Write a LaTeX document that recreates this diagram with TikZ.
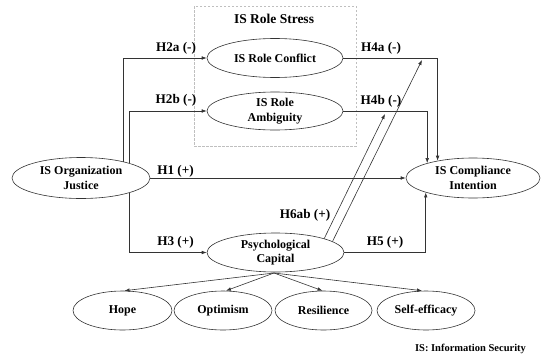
\documentclass[tikz,border=0pt]{standalone}
\usepackage{fontspec}
\setmainfont{Liberation Serif}
\usetikzlibrary{shapes.geometric,arrows.meta}
\begin{document}
\begin{tikzpicture}[x=1pt,y=-1pt,
  ell/.style={ellipse,draw=black!80,line width=0.6pt,inner sep=0pt,align=center,
    font=\fontsize{12}{14.4}\selectfont\bfseries},
  arr/.style={draw=black!80,line width=0.6pt,-{Latex[length=5pt,width=3.6pt]}},
  lbl/.style={font=\fontsize{13.2}{15}\selectfont\bfseries,inner sep=0pt}]
\useasboundingbox (0,0) rectangle (543,359);
% dashed box
\draw[black!25,line width=0.5pt,dash pattern=on 2.5pt off 1.5pt] (194,6) rectangle (356,146);
\node[lbl,font=\fontsize{13.5}{15}\selectfont\bfseries] (ttl) at (274,18.5) {IS Role Stress};
% ellipses
\node[ell,minimum width=136pt,minimum height=39pt] (rc) at (275,58) {IS Role Conflict};
\node[ell,minimum width=136pt,minimum height=38pt] (ra) at (275,111) {IS Role\\Ambiguity};
\node[ell,minimum width=138pt,minimum height=41pt] (oj) at (81,178) {IS Organization\\Justice};
\node[ell,minimum width=134pt,minimum height=40pt] (ci) at (473,178) {IS Compliance\\Intention};
\node[ell,minimum width=137pt,minimum height=39pt] (pc) at (275.5,252.5) {Psychological\\Capital};
\node[ell,minimum width=99pt,minimum height=39pt] (hope) at (122.5,310.5) {Hope};
\node[ell,minimum width=98pt,minimum height=39pt] (opt) at (223,310.5) {Optimism};
\node[ell,minimum width=97pt,minimum height=39pt] (res) at (323.5,310.5) {Resilience};
\node[ell,minimum width=98pt,minimum height=39pt] (self) at (426,310.5) {Self-efficacy};
% connectors
\draw[arr] (oj.21) |- (rc.west);
\draw[arr] (oj.17) |- (ra.west);
\draw[arr] (oj.-17) |- (pc.west);
\draw[arr] (oj.east) -- (ci.west);
\draw[arr] (rc.east) -| (ci.154);
\draw[arr] (ra.east) -| (ci.162.5);
\draw[arr] (pc.east) -| (ci.197.5);
\coordinate (m1) at (385,114);
\coordinate (m2) at (422,60);
\draw[arr] (pc.16) -- (m1);
\draw[arr] (pc.11) -- (m2);
\coordinate (pcb) at (274,273);
\draw[arr] (pcb) -- ([xshift=2pt]hope.north);
\draw[arr] (pcb) -- ([xshift=3pt]opt.north);
\draw[arr] (pcb) -- ([xshift=-1pt]res.north);
\draw[arr] (pcb) -- ([xshift=-4pt]self.north);
% labels
\node[lbl] (l2a) at (176,48) {H2a (-)};
\node[lbl] (l2b) at (176,100.5) {H2b (-)};
\node[lbl] (l1) at (175.5,171) {H1 (+)};
\node[lbl] (l3) at (175.5,242) {H3 (+)};
\node[lbl] (l4a) at (381,48) {H4a (-)};
\node[lbl] (l4b) at (381,101.5) {H4b (-)};
\node[lbl] (l5) at (385,242) {H5 (+)};
\node[lbl] (l6) at (305,215) {H6ab (+)};
\node[font=\fontsize{10.5}{12}\selectfont\bfseries,inner sep=0pt] (note) at (470.5,349) {IS: Information Security};
\end{tikzpicture}
\end{document}
